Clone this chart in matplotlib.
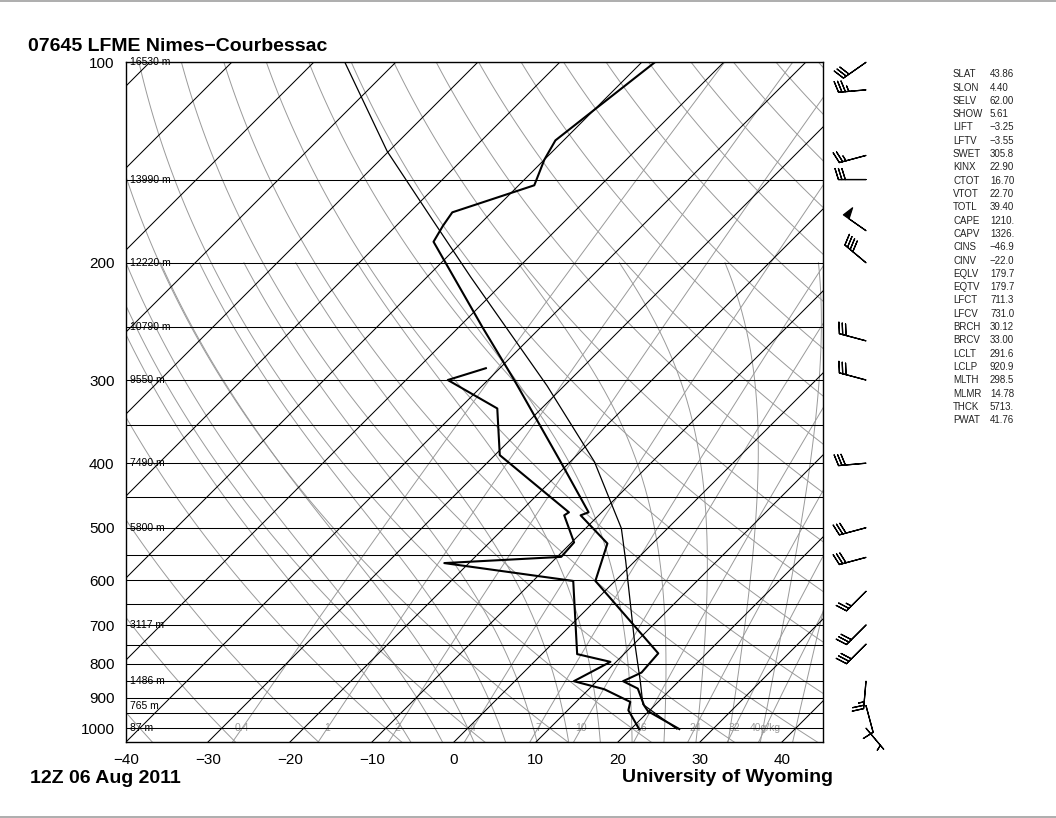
import numpy as np
import matplotlib
matplotlib.use('Agg')
import matplotlib.pyplot as plt
import matplotlib.transforms as mtransforms
from matplotlib.lines import Line2D

plt.rcParams['font.family'] = ['Liberation Sans', 'DejaVu Sans']

# ---- sounding 07645 LFME, 12Z 06 Aug 2011 ----
p_temp = [1003, 943, 924, 872, 850, 825, 772, 601, 528, 479, 474, 400, 300, 250,
          186, 176, 168, 153, 140, 131, 118, 100]
temp = [25.9, 19.9, 18.7, 15.9, 13.2, 14.4, 14.1, -2.4, -5.5, -12.2, -11.6, -20.9,
        -36.8, -47.1, -63.5, -64.3, -64.8, -58.1, -60.0, -61.0, -60.0, -58.4]

p_dwpt = [1003, 940, 913, 874, 850, 795, 774, 601, 565, 553, 526, 479, 474, 389,
          331, 300, 288]
dwpt = [21.0, 17.4, 16.6, 11.9, 7.2, 9.3, 4.3, -5.1, -23.0, -9.5, -9.7, -14.2,
        -14.0, -29.4, -35.4, -44.9, -41.7]

p_parcel = [1003, 921, 850, 738, 560, 501, 398, 306, 210, 173, 136, 100]
t_parcel = [25.6, 18.45, 15.3, 9.6, -1.2, -5.65, -17.05, -32.1, -54.7, -66.1, -80.2, -96.2]

p_wind = [100, 110, 138, 150, 179, 200, 262, 300, 400, 500, 554, 623, 700, 748, 850, 925, 1000]
wdir = [235, 265, 255, 270, 305, 310, 285, 285, 265, 255, 255, 225, 225, 225, 185, 165, 140]
wspd = [30, 35, 25, 30, 50, 40, 30, 30, 30, 30, 30, 25, 30, 30, 25, 10, 5]

hgt_p = [100, 150, 200, 250, 300, 400, 500, 700, 850, 925, 1000]
hgt_lbl = ['16530 m', '13990 m', '12220 m', '10790 m', '9550 m', '7490 m', '5800 m',
           '3117 m', '1486 m', '765 m', '87 m']

mr_vals = [0.4, 1, 2, 4, 7, 10, 16, 24, 32, 40]
mr_lbls = ['0.4', '1', '2', '4', '7', '10', '16', '24', '32', '40g/kg']

idx_names = ['SLAT', 'SLON', 'SELV', 'SHOW', 'LIFT', 'LFTV', 'SWET', 'KINX', 'CTOT',
             'VTOT', 'TOTL', 'CAPE', 'CAPV', 'CINS', 'CINV', 'EQLV', 'EQTV', 'LFCT',
             'LFCV', 'BRCH', 'BRCV', 'LCLT', 'LCLP', 'MLTH', 'MLMR', 'THCK', 'PWAT']
idx_vals = ['43.86', '4.40', '62.00', '5.61', '\u22123.25', '\u22123.55', '305.8', '22.90',
            '16.70', '22.70', '39.40', '1210.', '1326.', '\u221246.9', '\u221222.0', '179.7',
            '179.7', '711.3', '731.0', '30.12', '33.00', '291.6', '920.9', '298.5',
            '14.78', '5713.', '41.76']

P_BOT, P_TOP = 1050., 100.
T_LEFT, T_RIGHT = -40., 45.
GRAY = '#9a9a9a'

W, H = 1056, 818
fig = plt.figure(figsize=(W / 100, H / 100), dpi=100)
ax_l, ax_r, ax_t, ax_b = 125.7, 822.7, 62.3, 742.3
ax = fig.add_axes([ax_l / W, 1 - ax_b / H, (ax_r - ax_l) / W, (ax_b - ax_t) / H])
ax.set_yscale('log')
ax.set_ylim(P_BOT, P_TOP)
ax.set_xlim(T_LEFT, T_RIGHT)

# skew so the isotherms run at 45 degrees on screen
K = ((ax_b - ax_t) / np.log10(P_BOT / P_TOP)) / ((ax_r - ax_l) / (T_RIGHT - T_LEFT))


def sk(t, p):
    return np.asarray(t, float) + K * np.log10(P_BOT / np.asarray(p, float))


def dewpoint_from_mr(w, p):
    e = w * p / (622. + w)
    a = np.log(e / 6.112)
    return 243.5 * a / (17.67 - a)


def moist_adiabat(t0, p):
    # integrate the pseudo-adiabatic lapse rate from 1000 hPa
    Rd, Cp, Lv, eps = 287.04, 1005.7, 2.501e6, 0.622

    def dtdp(T, pp):
        es = 6.112 * np.exp(17.67 * (T - 273.15) / (T - 29.65))
        rs = eps * es / (pp - es)
        return (Rd * T + Lv * rs) / pp / (Cp + Lv * Lv * rs * eps / (Rd * T * T))

    out = np.empty_like(p)
    for i, pt in enumerate(p):
        T = t0 + 273.15
        n = max(int(abs(pt - 1000.) / 2.) + 1, 1)
        h = (pt - 1000.) / n
        pp = 1000.
        for _ in range(n):
            k1 = dtdp(T, pp)
            k2 = dtdp(T + h * k1 / 2, pp + h / 2)
            k3 = dtdp(T + h * k2 / 2, pp + h / 2)
            k4 = dtdp(T + h * k3, pp + h)
            T += h * (k1 + 2 * k2 + 2 * k3 + k4) / 6
            pp += h
        out[i] = T - 273.15
    return out


p_line = np.logspace(np.log10(P_BOT), np.log10(P_TOP), 120)

# dry adiabats
for th in range(-40, 190, 10):
    tt = (th + 273.15) * (p_line / 1000.) ** 0.2857 - 273.15
    ax.plot(sk(tt, p_line), p_line, color=GRAY, lw=0.7, zorder=1)

# moist adiabats
p_moist = np.logspace(np.log10(P_BOT), np.log10(200.), 50)
for t0 in range(-8, 41, 4):
    ax.plot(sk(moist_adiabat(t0, p_moist), p_moist), p_moist, color=GRAY, lw=0.7, zorder=1)

# mixing ratio lines
for w, lbl in zip(mr_vals, mr_lbls):
    ax.plot(sk(dewpoint_from_mr(w, p_line), p_line), p_line, color=GRAY, lw=0.7, zorder=1)
    ax.text(sk(dewpoint_from_mr(w, 1000.), 1000.), 1000., lbl, color=GRAY,
            fontsize=7.5, ha='center', va='center', zorder=2)

# isotherms and isobars
for t in range(-130, 50, 10):
    ax.plot(sk([t, t], [P_BOT, P_TOP]), [P_BOT, P_TOP], color='k', lw=0.75, zorder=2)
for p in range(100, 1001, 50):
    ax.axhline(p, color='k', lw=0.75, zorder=2)

# heights of the standard levels
lbl_tr = mtransforms.blended_transform_factory(ax.transAxes, ax.transData)
for p, s in zip(hgt_p, hgt_lbl):
    ax.text(0.006, p, s, transform=lbl_tr, fontsize=7.5, ha='left', va='center', zorder=3)

# profiles
ax.plot(sk(t_parcel, p_parcel), p_parcel, color='k', lw=0.9, zorder=4)
ax.plot(sk(temp, p_temp), p_temp, color='k', lw=1.5, zorder=5)
ax.plot(sk(dwpt, p_dwpt), p_dwpt, color='k', lw=1.5, zorder=5)

# axes cosmetics
ax.set_yticks([100, 200, 300, 400, 500, 600, 700, 800, 900, 1000])
ax.set_yticklabels(['100', '200', '300', '400', '500', '600', '700', '800', '900', '1000'])
ax.yaxis.set_minor_locator(matplotlib.ticker.NullLocator())
ax.set_xticks(range(-40, 41, 10))
ax.set_xticklabels([str(v).replace('-', '\u2212') for v in range(-40, 41, 10)])
ax.tick_params(length=0, labelsize=11, pad=8)
for s in ax.spines.values():
    s.set_linewidth(1.0)

# wind barbs to the right of the diagram
rad = np.deg2rad(wdir)
u = -np.asarray(wspd) * np.sin(rad)
v = -np.asarray(wspd) * np.cos(rad)
barb_tr = mtransforms.blended_transform_factory(fig.transFigure, ax.transData)
ax.barbs(np.full(len(p_wind), 866. / W), p_wind, u, v, transform=barb_tr, length=6.3,
         lw=0.9, clip_on=False, pivot='tip', color='k')

# station indices
for i, (nm, val) in enumerate(zip(idx_names, idx_vals)):
    yy = 1 - (74.3 + i * 13.3) / H
    fig.text(953 / W, yy, nm, fontsize=7, va='center', color='#222222')
    fig.text(990 / W, yy, val, fontsize=7, va='center', color='#222222')

fig.text(28 / W, 1 - 51 / H, '07645 LFME Nimes\u2212Courbessac', fontsize=14,
         fontweight='bold', va='baseline')
fig.text(30 / W, 1 - 783 / H, '12Z 06 Aug 2011', fontsize=14, fontweight='bold', va='baseline')
fig.text(621.7 / W, 1 - 782 / H, 'University of Wyoming', fontsize=14, fontweight='bold',
         va='baseline')

# page rules
fig.add_artist(Line2D([0, 1], [1 - 1 / H] * 2, transform=fig.transFigure, color='#a0a0a0', lw=1.2))
fig.add_artist(Line2D([0, 1], [1 - 817 / H] * 2, transform=fig.transFigure, color='#a0a0a0', lw=1.2))

fig.savefig('out.png', dpi=100)
